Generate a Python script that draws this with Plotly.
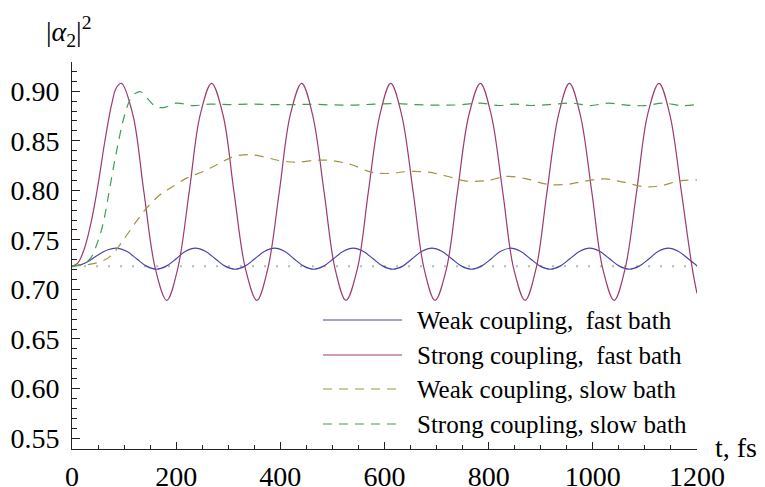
import plotly.graph_objects as go

# ---------------- data ----------------
ref_t = [0, 1200]
ref_y = [0.7235, 0.7235]

weak_fast_t = [0, 15, 30, 50, 69, 86,
               105, 124, 143, 162, 181, 200, 218, 237, 256, 275, 294, 313,
               332, 351, 370, 389, 408, 426, 445, 464, 483, 502, 521, 540,
               559, 578, 597, 616, 635, 653, 672, 691, 710, 729, 748, 767,
               786, 805, 823, 842, 861, 880, 899, 918, 937, 956, 975, 994,
               1013, 1032, 1051, 1070, 1089, 1108, 1126, 1145, 1164, 1183, 1200]
weak_fast_y = [0.7235, 0.7245, 0.7280, 0.7348, 0.7400, 0.7416,
               0.7385, 0.7310, 0.7235, 0.7204, 0.7235, 0.7310, 0.7385, 0.7416, 0.7385, 0.7310, 0.7235, 0.7204,
               0.7235, 0.7310, 0.7385, 0.7416, 0.7385, 0.7310, 0.7235, 0.7204, 0.7235, 0.7310, 0.7385, 0.7416,
               0.7385, 0.7310, 0.7235, 0.7204, 0.7235, 0.7310, 0.7385, 0.7416, 0.7385, 0.7310, 0.7235, 0.7204,
               0.7235, 0.7310, 0.7385, 0.7416, 0.7385, 0.7310, 0.7235, 0.7204, 0.7235, 0.7310, 0.7385, 0.7416,
               0.7385, 0.7310, 0.7235, 0.7204, 0.7235, 0.7310, 0.7385, 0.7416, 0.7385, 0.7310, 0.7240]

strong_fast_t = [0, 11, 24, 37, 50, 63, 76, 85, 95,
                 117, 138, 160, 182, 203, 225, 246, 268, 290, 311, 333, 355,
                 376, 398, 419, 441, 462, 484, 505, 526, 548, 569, 591, 612,
                 633, 655, 676, 697, 719, 740, 762, 784, 805, 827, 848, 870,
                 891, 912, 934, 955, 976, 998, 1019, 1041, 1062, 1084, 1105, 1127,
                 1148, 1170, 1191, 1200]
strong_fast_y = [0.7235, 0.7265, 0.7416, 0.7685, 0.8056, 0.8493, 0.8864, 0.9032, 0.9080,
                 0.8760, 0.7985, 0.7210, 0.6890, 0.7210, 0.7985, 0.8760, 0.9080, 0.8760, 0.7985, 0.7210, 0.6890,
                 0.7210, 0.7985, 0.8760, 0.9080, 0.8760, 0.7985, 0.7210, 0.6890, 0.7210, 0.7985, 0.8760, 0.9080,
                 0.8760, 0.7985, 0.7210, 0.6890, 0.7210, 0.7985, 0.8760, 0.9080, 0.8760, 0.7985, 0.7210, 0.6890,
                 0.7210, 0.7985, 0.8760, 0.9080, 0.8760, 0.7985, 0.7210, 0.6890, 0.7210, 0.7985, 0.8760, 0.9080,
                 0.8760, 0.7985, 0.7210, 0.6960]

weak_slow_t = [0, 30, 55, 75, 100, 124, 143, 169, 188, 220, 252, 284, 310, 342, 374, 399,
               428, 473, 500, 537, 575, 607, 646, 684, 722, 755, 793, 835, 873, 911, 950,
               988, 1023, 1059, 1097, 1129, 1167, 1200]
weak_slow_y = [0.7235, 0.7250, 0.7280, 0.7340, 0.7510, 0.7690, 0.7820, 0.7955, 0.8020, 0.8123, 0.8190,
               0.8275, 0.8340, 0.8360, 0.8330, 0.8300, 0.8285, 0.8305, 0.8300, 0.8258, 0.8183, 0.8170,
               0.8190, 0.8183, 0.8140, 0.8096, 0.8096, 0.8140, 0.8116, 0.8062, 0.8060, 0.8096, 0.8116,
               0.8083, 0.8038, 0.8045, 0.8096, 0.8105]

strong_slow_t = [0, 20, 35, 50, 60, 70, 85, 100, 112, 122, 132, 146, 158, 168, 180,
                 200, 233, 265, 300, 340, 380, 420, 460, 500, 540, 580, 620, 660, 700, 740,
                 783, 820, 850, 880, 920, 960, 995, 1030, 1065, 1100, 1135, 1170, 1200]
strong_slow_y = [0.7235, 0.7255, 0.7310, 0.7490, 0.7670, 0.7950, 0.8380, 0.8740, 0.8920, 0.8980,
                 0.8995, 0.8920, 0.8855, 0.8835, 0.8840, 0.8880, 0.8855, 0.8870, 0.8865, 0.8870,
                 0.8865, 0.8865, 0.8868, 0.8862, 0.8860, 0.8870, 0.8875, 0.8865, 0.8860, 0.8862,
                 0.8880, 0.8856, 0.8870, 0.8856, 0.8867, 0.8880, 0.8855, 0.8880, 0.8860, 0.8855,
                 0.8880, 0.8855, 0.8865]

x_tickvals = [0, 200, 400, 600, 800, 1000, 1200]
y_tickvals = [0.55, 0.60, 0.65, 0.70, 0.75, 0.80, 0.85, 0.90]
y_ticktext = ["0.55", "0.60", "0.65", "0.70", "0.75", "0.80", "0.85", "0.90"]

series_names = ["Weak coupling,  fast bath", "Strong coupling,  fast bath",
                "Weak coupling, slow bath", "Strong coupling, slow bath"]
colors = ["#4444aa", "#9c3a72", "#a4923e", "#3c9e54"]
dashes = ["solid", "solid", "9px,7px", "9px,7px"]

FONT = "Liberation Serif"

# ---------------- figure ----------------
fig = go.Figure()
fig.add_trace(go.Scatter(x=ref_t, y=ref_y, mode="lines",
                         line=dict(color="#b8b8b8", width=2, dash="2px,10px"),
                         hoverinfo="skip"))

series = [(weak_fast_t, weak_fast_y), (strong_fast_t, strong_fast_y),
          (weak_slow_t, weak_slow_y), (strong_slow_t, strong_slow_y)]
for (tt, yy), name, c, d in zip(series, series_names, colors, dashes):
    fig.add_trace(go.Scatter(x=tt, y=yy, mode="lines", name=name,
                             line=dict(color=c, width=1.2, dash=d, shape="spline", smoothing=1.0)))

# plot-area geometry in pixels (for the hand-drawn legend)
L, R, T, B = 72, 697, 62, 449
W, H = R - L, B - T

def px2paper(px, py):
    return (px - L) / W, (B - py) / H

shapes = []
annotations = []
rows_py = [320, 355, 389, 424]
for py, name, c, d in zip(rows_py, series_names, colors, dashes):
    x0, y0 = px2paper(323, py)
    x1, _ = px2paper(402, py)
    shapes.append(dict(type="line", xref="paper", yref="paper", x0=x0, x1=x1, y0=y0, y1=y0,
                       line=dict(color=c, width=1.2, dash=d)))
    tx, _ = px2paper(415, py)
    annotations.append(dict(x=tx, y=y0, xref="paper", yref="paper", text=name,
                            showarrow=False, xanchor="left", yanchor="middle",
                            font=dict(family=FONT, size=25, color="black")))

# axis labels
ax, ay = px2paper(69, 31)
annotations.append(dict(x=ax, y=ay, xref="paper", yref="paper",
                        text="|<i>α</i><sub>2</sub>|<sup>2</sup>", showarrow=False,
                        xanchor="center", yanchor="middle",
                        font=dict(family=FONT, size=28, color="black")))
tx, ty = px2paper(713, 447)
annotations.append(dict(x=tx, y=ty, xref="paper", yref="paper", text="t, fs",
                        showarrow=False, xanchor="left", yanchor="middle",
                        font=dict(family=FONT, size=28, color="black")))

axis_color = "#222222"
fig.update_layout(
    width=765, height=487, autosize=False,
    margin=dict(l=L, r=765 - R, t=T, b=487 - B, pad=0, autoexpand=False),
    paper_bgcolor="white", plot_bgcolor="white",
    showlegend=False,
    font=dict(family=FONT, size=28, color="black"),
    shapes=shapes, annotations=annotations,
    xaxis=dict(range=[0, 1200], showline=True, linecolor=axis_color, linewidth=1,
               automargin=False,
               ticks="inside", ticklen=7, tickwidth=1, tickcolor=axis_color,
               tickvals=x_tickvals, showgrid=False, zeroline=False,
               tickfont=dict(family=FONT, size=28, color="black"),
               ticklabelstandoff=2,
               minor=dict(ticks="inside", ticklen=4, tickwidth=1, tickcolor=axis_color,
                          dtick=50, tick0=0, showgrid=False)),
    yaxis=dict(range=[0.539, 0.9295], showline=True, linecolor=axis_color, linewidth=1,
               automargin=False,
               ticks="inside", ticklen=8, tickwidth=1, tickcolor=axis_color,
               tickvals=y_tickvals, ticktext=y_ticktext, showgrid=False, zeroline=False,
               tickfont=dict(family=FONT, size=28, color="black"),
               ticklabelstandoff=6,
               minor=dict(ticks="inside", ticklen=5, tickwidth=1, tickcolor=axis_color,
                          dtick=0.01, tick0=0.5, showgrid=False)),
)

fig.write_html("out.html", config={"displayModeBar": False},
               post_script="document.body.style.margin='0px';")
